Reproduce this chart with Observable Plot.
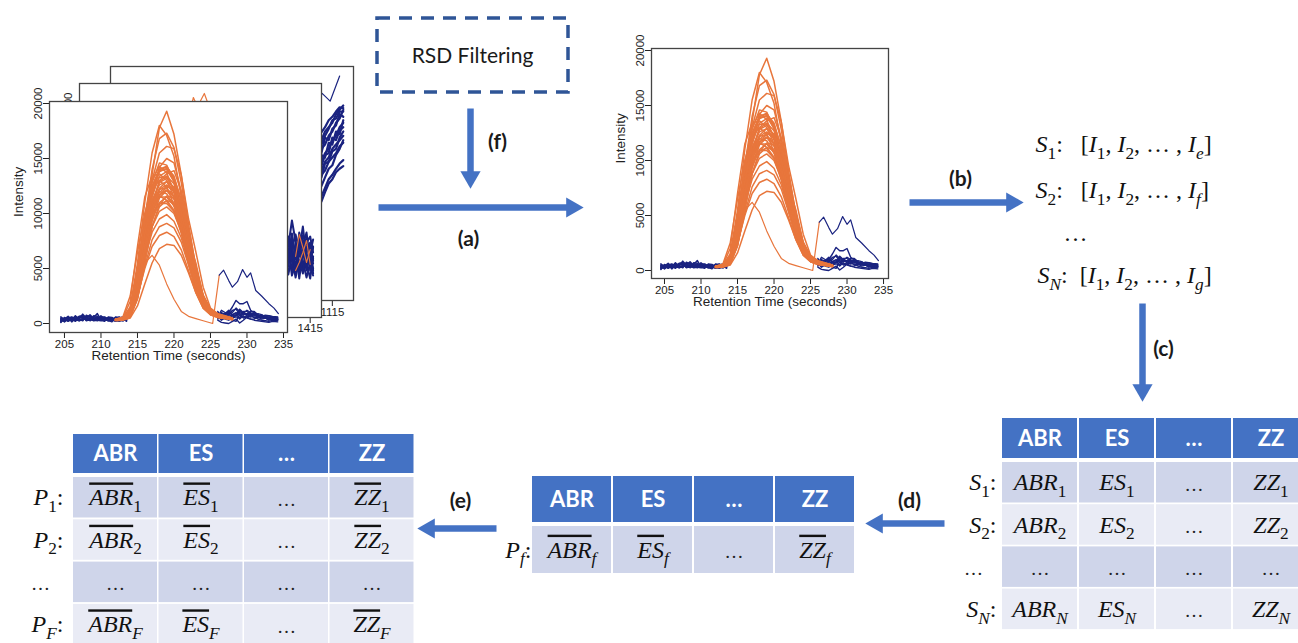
<!DOCTYPE html>
<html><head><meta charset="utf-8">
<script src="https://cdn.jsdelivr.net/npm/d3@7"></script>
<script src="https://cdn.jsdelivr.net/npm/@observablehq/plot@0.6"></script>
<style>
html,body{margin:0;padding:0;background:#fff;}
#root{position:relative;width:1298px;height:643px;overflow:hidden;background:#fff;}
#root svg{position:absolute;}
</style></head><body><div id="root"></div>
<script>
// ================= DATA =================
// Chromatogram of feature near 220 s (front and filtered plots)
const orangeTimes = [212,213,214,215,216,217,218,219,220,221,222,223,224,225,226,227,228];
const orangeCurves = [
 [400,450,900,3500,8500,13500,17800,19300,17200,13500,9000,5000,2300,1200,800,600,500],
 [350,500,1500,5500,11000,15500,18000,17100,15200,11500,7500,4200,2000,1100,700,550,450],
 [300,400,1000,4000,9500,14000,16800,17300,16000,12800,8500,4800,2400,1300,900,700,500],
 [400,500,1200,4500,9000,13000,15500,16100,15900,13500,9500,6500,3300,1400,900,650,500],
 [350,400,800,3000,7500,11500,14200,15000,14600,12000,8200,4600,2200,1100,750,600,450],
 [300,450,1100,4200,8800,12500,14000,14300,13200,10500,7000,3800,1900,1000,700,550,450],
 [400,500,2000,7000,11500,13400,13600,13000,11500,9000,6000,3300,1700,950,650,500,400],
 [300,350,700,2500,6500,10500,13000,13600,13900,12000,8800,5200,2600,1300,850,650,500],
 [350,400,900,3500,8000,11200,12600,12900,12000,9800,6800,3800,1800,950,700,550,450],
 [300,400,800,3000,7000,10200,11700,12100,11300,9200,6400,3600,1700,900,650,500,400],
 [300,350,600,2200,5500,8800,10800,11600,11400,10000,7600,5500,2500,1300,850,600,450],
 [350,400,1000,3800,7500,10000,10900,11100,10200,8200,5600,3100,1500,850,600,500,400],
 [300,400,700,2800,6200,8800,10200,10600,10000,8400,6000,3500,1700,900,650,500,400],
 [300,350,800,3000,6000,8300,9500,9900,9300,7800,5500,3200,1600,850,600,500,400],
 [300,350,600,2300,5200,7600,8800,9100,8700,7400,5300,3100,1500,800,600,450,400],
 [300,400,700,2500,5000,7000,8000,8300,7900,6700,4800,2800,1400,800,550,450,350],
 [250,300,500,1600,3600,5500,6800,7200,7100,6200,4600,2800,1400,800,550,450,350],
 [400,600,2500,6500,10000,12200,13000,12400,10800,8300,5400,2900,1500,900,600,500,400],
 [300,350,900,3300,7800,11800,13800,14100,13000,10400,7200,4100,2000,1000,700,550,450],
 [350,450,1300,4800,9500,12800,14600,14400,12900,10100,6700,3700,1800,950,650,500,400],
 [300,400,750,2700,6800,10800,12900,13400,12700,10700,7900,4700,2300,1200,800,600,450],
 [350,400,1100,4000,8300,11000,12200,12300,11500,9500,6600,3900,1900,1000,700,550,450],
 [300,350,650,2400,5800,9300,11400,12100,11900,10300,7400,4400,2200,1100,750,550,400],
 [350,450,1200,4200,8200,10800,11600,11200,10300,8700,6200,3600,1800,950,650,500,400],
 [300,400,1000,3800,8400,12200,13900,14000,12900,10300,7100,4000,2000,1000,700,550,450],
 [350,450,1400,5000,9800,13000,14300,13700,12000,9300,6200,3400,1700,950,650,500,400],
 [300,350,700,2600,6400,10100,12300,12900,12400,10600,7800,4800,2400,1200,800,600,450],
 [300,400,900,3400,7600,11000,12800,13200,12300,10000,7000,4000,2000,1050,700,550,450],
 [350,400,850,3200,7200,10500,12200,12600,12000,10200,7300,4300,2100,1100,750,550,450],
 [300,400,1000,3700,7900,10900,12000,11800,10700,8800,6100,3500,1700,900,650,500,400],
 [300,350,650,2300,5600,8800,10600,11200,10900,9400,6900,4200,2100,1100,750,550,400],
 [350,450,1200,4400,8800,11900,13300,13300,12200,9900,6800,3800,1900,1000,700,550,450],
 [300,400,800,3100,6900,10000,11700,12100,11600,9900,7200,4300,2100,1100,750,550,450],
 [350,400,950,3600,7400,10300,11500,11500,10700,8900,6300,3700,1800,950,650,500,400],
 [300,350,700,2700,6300,9600,11600,12400,12300,10800,8100,5000,2500,1250,800,600,450],
 [350,450,1300,4600,9200,12400,14000,14200,13400,11000,7700,4400,2200,1100,750,550,450],
 [300,400,850,3300,7100,10200,11900,12500,12000,10100,7200,4200,2100,1100,750,550,450],
 [300,350,750,2900,6500,9400,11000,11500,11000,9300,6700,3900,1900,1000,700,550,400],
 [350,400,1000,3900,8100,11500,13400,13800,13300,11300,8200,4900,2400,1200,800,600,450],
 [300,400,900,3300,7000,9700,10900,10900,10200,8500,6000,3500,1700,900,650,500,400]
];
const earlyPeakTimes  = [212,213,214,215,216,217,218,219,220,221,222,223,224,225.3,226.2];
const earlyPeakValues = [300,400,1000,3000,5500,6200,5300,3600,2200,1100,650,450,250,0,4400];
const bumpTimes  = [226.2,226.8,227.5,228,228.7,229.4,230,230.5,231.2,232,233,233.7,234.3];
const bumpValues = [4400,4850,3900,3300,3800,4900,4200,4600,3000,2500,1800,1400,900];
const bluePreTimes = [204.5,205,205.5,206,206.5,207,207.5,208,208.5,209,209.5,210,210.5,211,211.5,212,212.5,213,213.5];
const bluePreCurves = [
 [300,450,200,380,500,250,350,600,420,300,600,380,400,250,300,450,350,500,350],
 [150,350,300,500,250,450,700,350,450,250,300,550,500,350,250,400,600,300,400],
 [500,250,450,400,650,350,300,500,800,450,550,300,350,500,300,250,200,400,300],
 [200,550,300,350,400,600,550,300,300,700,650,400,450,300,500,350,300,250,450],
 [400,200,500,600,300,450,850,500,500,350,350,600,600,400,200,500,450,350,250],
 [250,400,650,300,700,300,450,650,650,400,300,250,250,550,400,300,500,600,350],
 [600,350,250,450,200,550,500,300,400,550,900,350,350,250,300,550,250,300,500],
 [100,500,350,250,550,400,250,750,550,300,450,500,550,400,350,200,400,450,300],
 [350,300,550,150,450,650,700,250,350,600,500,450,200,600,550,350,300,500,200],
 [450,150,400,550,350,250,400,550,250,450,250,700,400,300,150,600,550,250,400]
];
const bluePostTimes = [226,226.5,227,227.5,228,228.5,229,229.5,230,230.5,231,231.5,232,232.5,233,233.5,234.2];
const bluePostCurves = [
 [900,700,800,1100,700,800,1200,900,900,700,800,600,700,600,500,550,500],
 [600,900,700,500,800,1000,700,1100,1100,800,800,500,600,500,400,450,400],
 [1000,600,900,800,1200,1300,900,600,700,600,1000,800,700,500,300,400,350],
 [500,800,400,300,600,700,1000,800,900,800,500,600,400,500,600,500,450],
 [800,400,600,900,500,600,500,1000,700,600,600,400,300,250,200,300,250],
 [400,1000,800,700,300,200,800,500,600,900,900,700,600,750,700,600,550],
 [700,300,500,600,800,900,400,700,500,400,400,600,800,500,350,400,300],
 [700,800,900,1000,1500,2100,1800,1800,2000,1200,900,700,600,550,500,450,400],
 [300,100,50,0,200,400,50,300,600,400,300,250,200,150,100,200,150],
 [1100,500,900,1200,800,700,1300,1000,800,1100,1100,800,500,600,450,500,400],
 [600,1200,1000,800,1000,1400,1100,900,1200,1000,700,900,800,600,700,650,600]
];
const frontTicksX = [205,210,215,220,225,230,235];
const intensityTicks = [0,5000,10000,15000,20000];

// Second stacked chromatogram (feature near 1400 s), mostly hidden
const midPeakTimes = [1396,1397,1398,1399,1400,1400.5,1401,1402,1403,1404];
const midPeakCurves = [
 [8000,13000,18000,21100,19500,17500,15000,10000,6000,3000],
 [7000,11000,15500,18500,20800,21500,20500,15000,9000,4000],
 [6000,9000,13000,16000,17500,17000,16500,12000,7000,3500]
];
const midBandTimes = [1411,1411.5,1412,1412.5,1413,1413.5,1414,1414.5,1415,1415.4];
const midBandCurves = [
 [5000,6500,4200,7000,5500,6800,4000,6200,5800,3500],
 [4000,3200,5800,3800,6500,3000,5600,4500,3000,5200],
 [6500,5000,7200,5600,4200,7600,6000,3800,6400,4800],
 [3000,4600,3400,5200,3100,4800,3500,5400,4200,3300],
 [7000,5800,6200,8800,6700,5200,7300,6600,7200,5600],
 [5500,7200,4800,6000,7400,5800,8200,5000,5500,6900],
 [3600,4000,6000,3300,4400,3800,4700,3100,4600,4000],
 [4500,5500,6800,4700,5900,6300,5200,7000,3800,5000],
 [6000,3800,5000,6500,3600,5500,6800,4300,5200,6200],
 [3300,5200,3900,4200,6000,4200,3800,5800,6600,3800],
 [7200,6300,5300,7500,4900,6900,6400,7600,4700,6100],
 [4800,4100,7000,5000,5200,4500,5900,4000,5300,4500]
];
const midOrangeTimes = [1413,1413.5,1414,1414.5,1415];
const midOrangeCurves = [[5200,7400,6100,4600,5900],[3800,4600,5600,6800,4400]];
const midTicksX = [1385,1390,1395,1400,1405,1410,1415];

// Third stacked chromatogram (feature near 1115 s), mostly hidden
const backBandTimes = [1112,1112.5,1113,1113.5,1114,1114.5,1115,1115.5,1116,1116.5];
const backBandCurves = [
 [8000,9000,9800,10400,11500,12500,13000,13800,14200,14500],
 [11000,12000,13500,14000,15000,15500,16500,17000,17500,18000],
 [13000,14500,15500,16500,17000,18000,18500,19500,20000,21000],
 [10000,11500,12000,13500,14000,15000,15500,16000,16800,17200],
 [12000,13000,14500,15000,16000,16500,17500,18000,19000,19500],
 [14000,15500,16000,17500,18500,19000,19500,20500,21000,21500],
 [8500,9500,10500,11000,12000,13000,13500,14200,14800,15200],
 [15000,16000,17500,18400,19000,19800,20200,20800,21300,21200],
 [10500,11000,12800,13200,14800,15000,16200,16500,17800,18500],
 [12500,13500,14000,15800,15500,17200,17000,18500,18200,19800],
 [11500,12800,13000,14500,15800,16000,17800,17500,18600,19000],
 [13500,14000,15800,16000,17800,17500,18800,19200,20500,20200],
 [9800,11200,11800,12200,13200,14200,14600,15800,16500,17500],
 [14500,15000,16800,17000,18000,18800,19800,20000,20800,20800]
];
const backTopTimes = [1112,1113.6,1114.7,1116];
const backTopValues = [21000,22900,22000,24900];
const backTicksX = [1085,1090,1095,1100,1105,1110,1115];

const xTitle = "Retention Time (seconds)";
const yTitle = "Intensity";

// Diagram text
const filterLabel = "RSD Filtering";
const stepLabels = ["(a)","(b)","(c)","(d)","(e)","(f)"];
const sequenceLines = [
 "$S_{1}:\u2002 [I_{1}, I_{2}, … , I_{e}]",
 "$S_{2}:\u2002 [I_{1}, I_{2}, … , I_{f}]",
 "…",
 "$S_{N}:\u2002[I_{1}, I_{2}, … , I_{g}]"
];
const tableHeaders = ["ABR","ES","…","ZZ"];
const sRowLabels = ["$S_{1}:","$S_{2}:","…","$S_{N}:"];
const sRowCells = [
 ["$ABR_{1}","$ES_{1}","…","$ZZ_{1}"],
 ["$ABR_{2}","$ES_{2}","…","$ZZ_{2}"],
 ["…","…","…","…"],
 ["$ABR_{N}","$ES_{N}","…","$ZZ_{N}"]
];
const pfRowLabels = ["$P_{f}:"];
const pfRowCells = [["$~{ABR}_{f}","$~{ES}_{f}","…","$~{ZZ}_{f}"]];
const pRowLabels = ["$P_{1}:","$P_{2}:","…","$P_{F}:"];
const pRowCells = [
 ["$~{ABR}_{1}","$~{ES}_{1}","…","$~{ZZ}_{1}"],
 ["$~{ABR}_{2}","$~{ES}_{2}","…","$~{ZZ}_{2}"],
 ["…","…","…","…"],
 ["$~{ABR}_{F}","$~{ES}_{F}","…","$~{ZZ}_{F}"]
];

// ================= STYLE / LAYOUT =================
const ORANGE = "#E8763C", NAVY = "#1A2380", ARROW = "#4472C4";
const root = document.getElementById("root");

const toPoints = (times, curves, prefix) =>
  curves.flatMap((vals, i) => vals.map((v, j) => ({t: times[j], v, id: prefix + i})));

const mainSeries = [
  {pts: toPoints(bluePreTimes, bluePreCurves, "bp"), color: NAVY, w: 1.5},
  {pts: toPoints(bluePostTimes, bluePostCurves, "bq"), color: NAVY, w: 1.4},
  {pts: toPoints(orangeTimes, orangeCurves, "o"), color: ORANGE, w: 1.5},
  {pts: toPoints(earlyPeakTimes, [earlyPeakValues], "e"), color: ORANGE, w: 1.2},
  {pts: toPoints(bumpTimes, [bumpValues], "u"), color: NAVY, w: 1.2}
];
const midSeries = [
  {pts: toPoints(midPeakTimes, midPeakCurves, "mp"), color: ORANGE, w: 1.2},
  {pts: toPoints(midBandTimes, midBandCurves, "mb"), color: NAVY, w: 2},
  {pts: toPoints(midOrangeTimes, midOrangeCurves, "mo"), color: ORANGE, w: 1.1}
];
const backSeries = [
  {pts: toPoints(backBandTimes, backBandCurves, "bb"), color: NAVY, w: 2.2},
  {pts: toPoints(backTopTimes, [backTopValues], "bt"), color: NAVY, w: 1.2}
];

function chrom({frame: [fx, fy, fw, fh], xDomain, yDomain, xTicks, series, titles, padX}) {
  const mL = 50, mR = 6, mT = 30, mB = 42;
  const marks = [Plot.frame({fill: "white", stroke: "none"})];
  for (const s of series)
    marks.push(Plot.line(s.pts, {x: "t", y: "v", z: "id", stroke: s.color, strokeWidth: s.w, clip: true}));
  marks.push(Plot.axisX({ticks: xTicks, tickSize: 6, tickPadding: padX, label: null, tickFormat: d => String(d)}));
  marks.push(Plot.axisY({ticks: intensityTicks, tickSize: 6, tickPadding: 2, tickRotate: -90, label: null, tickFormat: d => String(d)}));
  if (titles) {
    marks.push(Plot.text([xTitle], {text: d => d, frameAnchor: "bottom", dy: 27, fontSize: 13.5}));
    marks.push(Plot.text([yTitle], {text: d => d, frameAnchor: "left", dx: -31, rotate: -90, fontSize: 13.5}));
  }
  marks.push(Plot.frame({stroke: "#444", strokeWidth: 1.3}));
  const svg = Plot.plot({
    width: fw + mL + mR, height: fh + mT + mB,
    marginLeft: mL, marginRight: mR, marginTop: mT, marginBottom: mB,
    x: {domain: xDomain}, y: {domain: yDomain},
    style: {background: "transparent", fontFamily: "Liberation Sans", fontSize: "11.5px", color: "#222"},
    marks
  });
  svg.style.left = (fx - mL) + "px";
  svg.style.top = (fy - mT) + "px";
  root.append(svg);
}

// ================= DIAGRAM =================
const W = 1298, H = 643;
const arrowLayout = [
  {x1: 378, y1: 207, x2: 583, y2: 207, lx: 468, ly: 239},
  {x1: 909, y1: 202, x2: 1023, y2: 202, lx: 960, ly: 179},
  {x1: 1142, y1: 303, x2: 1142, y2: 401, lx: 1163, ly: 349},
  {x1: 944, y1: 523, x2: 865, y2: 523, lx: 909, ly: 501},
  {x1: 496, y1: 528, x2: 417, y2: 528, lx: 460, ly: 501},
  {x1: 470, y1: 108, x2: 470, y2: 188, lx: 497, ly: 142}
];
const HEAD_TIP = 11.5;
const arrows = arrowLayout.map((a, i) => {
  const L = Math.hypot(a.x2 - a.x1, a.y2 - a.y1), ux = (a.x2 - a.x1) / L, uy = (a.y2 - a.y1) / L;
  return {...a, label: stepLabels[i],
    sx2: a.x2 - ux * 14, sy2: a.y2 - uy * 14,
    hx: a.x2 - ux * HEAD_TIP, hy: a.y2 - uy * HEAD_TIP,
    rot: Math.atan2(ux, -uy) * 180 / Math.PI};
});

function tableMarks(T, headers, labels, rows) {
  const head = headers.map((h, j) => ({x1: T.x + j * (T.colW + T.gap), y1: T.top, h: T.headH, text: h}));
  const body = rows.flatMap((r, i) => r.map((c, j) => ({
    x1: T.x + j * (T.colW + T.gap), y1: T.top + T.headH + T.headGap + i * (T.rowH + T.rowGap),
    h: T.rowH, text: c, odd: i % 2 === 1})));
  const lab = labels.map((l, i) => ({text: l,
    y: T.top + T.headH + T.headGap + i * (T.rowH + T.rowGap) + T.rowH / 2}));
  const rectOpts = {x1: "x1", x2: d => d.x1 + T.colW, y1: "y1", y2: d => d.y1 + d.h};
  const cx = d => d.x1 + T.colW / 2, cy = d => d.y1 + d.h / 2;
  return [
    Plot.rect(head, {...rectOpts, fill: "#4472C4"}),
    Plot.rect(body.filter(d => !d.odd), {...rectOpts, fill: "#CFD5EA"}),
    Plot.rect(body.filter(d => d.odd), {...rectOpts, fill: "#E9EBF5"}),
    Plot.text(head, {x: cx, y: cy, text: "text", fill: "white", fontFamily: "Lato", fontWeight: "bold", fontSize: 22}),
    Plot.text(body.filter(d => d.text !== "…"), {x: cx, y: cy, text: "text", fill: "#111", fontFamily: "Liberation Serif", fontSize: 24}),
    Plot.text(body.filter(d => d.text === "…"), {x: cx, y: d => cy(d) + 2, text: "text", fill: "#222", fontFamily: "Liberation Serif", fontSize: 19}),
    Plot.text(lab.filter(d => d.text !== "…"), {x: T.labelX, y: "y", text: "text", textAnchor: "end", fill: "#111", fontFamily: "Liberation Serif", fontSize: 24}),
    Plot.text(lab.filter(d => d.text === "…"), {x: T.labelX - 23, y: d => d.y + 2, text: "text", fill: "#222", fontFamily: "Liberation Serif", fontSize: 19})
  ];
}

const rightTable = {x: 1002, colW: 75, gap: 2, top: 418, headH: 40, headGap: 4, rowH: 40.5, rowGap: 1.7, labelX: 996};
const midTable = {x: 532, colW: 79, gap: 2, top: 476, headH: 46, headGap: 4, rowH: 47, rowGap: 2, labelX: 531};
const leftTable = {x: 73, colW: 84, gap: 1.5, top: 434, headH: 39, headGap: 4, rowH: 40.5, rowGap: 1.8, labelX: 63};

const seqLayout = [{x: 1035, y: 144}, {x: 1035, y: 190}, {x: 1063, y: 233}, {x: 1037, y: 275}];
const seq = sequenceLines.map((s, i) => ({text: s, ...seqLayout[i]}));

const diagram = Plot.plot({
  width: W, height: H, margin: 0,
  x: {domain: [0, W], range: [0, W], axis: null},
  y: {domain: [0, H], range: [0, H], axis: null},
  style: {background: "transparent"},
  marks: [
    Plot.rect([filterLabel], {x1: () => 377, x2: () => 568, y1: () => 18, y2: () => 92, fill: "none",
      stroke: "#2F5597", strokeWidth: 3.5, strokeDasharray: "13,9"}),
    Plot.text([filterLabel], {x: () => 472, y: () => 56, text: d => d, fontFamily: "Lato", fontSize: 21, fill: "#1a1a1a"}),
    Plot.link(arrows, {x1: "x1", y1: "y1", x2: "sx2", y2: "sy2", stroke: ARROW, strokeWidth: 6.5}),
    Plot.dot(arrows, {x: "hx", y: "hy", symbol: "triangle", r: 7.5, rotate: "rot", fill: ARROW, stroke: "none"}),
    Plot.text(arrows, {x: "lx", y: "ly", text: "label", fontFamily: "Lato", fontWeight: "bold", fontSize: 21, fill: "#1a1a1a"}),
    Plot.text(seq, {x: "x", y: "y", text: "text", textAnchor: "start", fontFamily: "Liberation Serif", fontSize: 24, fill: "#111"}),
    ...tableMarks(rightTable, tableHeaders, sRowLabels, sRowCells),
    ...tableMarks(midTable, tableHeaders, pfRowLabels, pfRowCells),
    ...tableMarks(leftTable, tableHeaders, pRowLabels, pRowCells)
  ]
});
diagram.style.left = "0px"; diagram.style.top = "0px";
root.append(diagram);

// Convert "$" math strings: letters italic, _{..} subscripts, ~{..} overline
function renderMath(svg) {
  svg.querySelectorAll("text").forEach(t => {
    const s = t.textContent;
    if (!s.startsWith("$")) return;
    const fs = parseFloat(getComputedStyle(t).fontSize) || 24;
    const segs = []; let i = 1, sub = false, over = false, buf = "";
    const flush = () => { if (buf) segs.push({str: buf, sub, over}); buf = ""; };
    while (i < s.length) {
      const c = s[i];
      if ((c === "_" || c === "~") && s[i + 1] === "{") { flush(); if (c === "_") sub = true; else over = true; i += 2; continue; }
      if (c === "}") { flush(); sub = false; over = false; i++; continue; }
      buf += c; i++;
    }
    flush();
    t.textContent = "";
    t.setAttribute("style", "white-space:pre");
    const shift = 0.28 * fs; let cur = 0;
    for (const seg of segs) {
      const runs = seg.str.match(/[A-Za-z]+|[^A-Za-z]+/g) || [];
      for (const r of runs) {
        const ts = document.createElementNS("http://www.w3.org/2000/svg", "tspan");
        ts.textContent = r;
        if (/[A-Za-z]/.test(r)) ts.setAttribute("font-style", "italic");
        const target = seg.sub ? shift : 0;
        if (target !== cur) { ts.setAttribute("dy", target - cur); cur = target; }
        if (seg.sub) ts.setAttribute("font-size", 0.72 * fs);
        if (seg.over) ts.setAttribute("style", "text-decoration:overline");
        t.appendChild(ts);
      }
    }
  });
}
renderMath(diagram);

// ================= CHROMATOGRAMS =================
chrom({frame: [110, 66, 243, 234], xDomain: [1084.6, 1117.9], yDomain: [-1000, 26000], xTicks: backTicksX, series: backSeries, titles: false, padX: 1});
chrom({frame: [79, 83, 242, 234], xDomain: [1383.4, 1416.55], yDomain: [-900, 22500], xTicks: midTicksX, series: midSeries, titles: false, padX: 0});
chrom({frame: [49, 101, 238, 231], xDomain: [202.95, 235.55], yDomain: [-818, 20182], xTicks: frontTicksX, series: mainSeries, titles: true, padX: 1});
chrom({frame: [651, 48, 237, 230], xDomain: [203.22, 235.68], yDomain: [-727, 20182], xTicks: frontTicksX, series: mainSeries, titles: true, padX: 1});
</script></body></html>
